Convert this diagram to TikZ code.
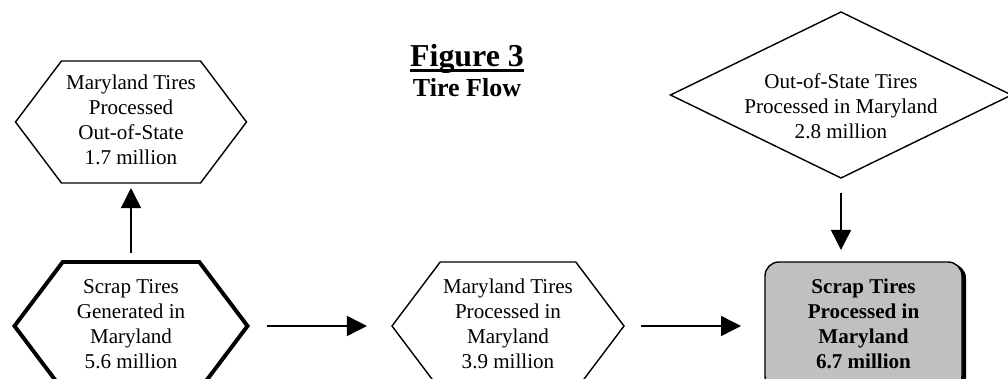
\documentclass[tikz,border=0pt]{standalone}
\usepackage{fontspec}
\setmainfont{Liberation Serif}
\usepackage{tikz-network}
\usetikzlibrary{shapes.symbols,shapes.geometric,shadows,arrows.meta}

\definecolor{tiregray}{HTML}{C0C0C0}
\newcommand{\tiretext}{\fontsize{15}{17.8}\selectfont}
\newcommand{\tirelines}[1]{{\tiretext\begin{tabular}{@{}c@{}}#1\end{tabular}}}
\newcommand{\tireul}[1]{\setbox0\hbox{#1}\rlap{\raisebox{-0.15cm}{\rule{\wd0}{0.075cm}}}\box0}
\tikzset{
  hexbox/.style={shape=signal, signal to=east and west, signal pointer angle=106,
    draw=black, fill=white, line width=1pt, inner sep=0pt},
  flowarrow/.style={-{Triangle[length=0.5cm,width=0.5cm]}}
}

\begin{document}
\begin{tikzpicture}
        \useasboundingbox (0,0) rectangle (25.2,9.475);
        % title
        \Vertex[x=11.675, y=8.01, label={\fontsize{22.7}{26}\selectfont\bfseries\tireul{Figure 3}}, style={fill=none, draw=none}]{fig}
        \Vertex[x=11.675, y=7.275, label={\fontsize{18.5}{22}\selectfont\bfseries Tire Flow}, style={fill=none, draw=none}]{flow}
        % boxes
        \Vertex[x=3.275, y=6.425, color=white, label={\tirelines{Maryland Tires\\Processed\\Out-of-State\\1.7 million}}, style={hexbox, minimum width=5.775cm, minimum height=3.05cm}]{outst}
        \Vertex[x=3.275, y=1.325, color=white, label={\tirelines{Scrap Tires\\Generated in\\Maryland\\5.6 million}}, style={hexbox, line width=2.8pt, minimum width=5.825cm, minimum height=3.2cm}]{scrap}
        \Vertex[x=12.7, y=1.325, color=white, label={\tirelines{Maryland Tires\\Processed in\\Maryland\\3.9 million}}, style={hexbox, minimum width=5.8cm, minimum height=3.2cm}]{mdproc}
        \Vertex[x=21.5875, y=1.325, color=tiregray, label={\tirelines{\bfseries Scrap Tires\\\bfseries Processed in\\\bfseries Maryland\\\bfseries 6.7 million}}, style={shape=rectangle, rounded corners=0.35cm, draw=black, fill=tiregray, line width=1pt, minimum width=4.925cm, minimum height=3.2cm, drop shadow={shadow xshift=0.1cm, shadow yshift=-0.05cm, fill=black, opacity=1}}]{total}
        \Vertex[x=21.025, y=7.1, color=white, label={\tirelines{\mbox{}\\[0.07cm]Out-of-State Tires\\Processed in Maryland\\2.8 million}}, style={shape=diamond, draw=black, fill=white, line width=1pt, inner sep=0pt, minimum width=8.525cm, minimum height=4.15cm}]{outin}
        \Vertex[x=21.025, y=3.225, size=0, style={fill=none, draw=none, minimum size=0pt, inner sep=0pt, outer sep=0pt}]{totin}
        % flows
        \Edge[Direct, color=black, lw=1pt, style={flowarrow, shorten <=0.225cm, shorten >=0.125cm}](scrap)(outst)
        \Edge[Direct, color=black, lw=1pt, style={flowarrow, shorten <=0.475cm, shorten >=0.625cm}](scrap)(mdproc)
        \Edge[Direct, color=black, lw=1pt, style={flowarrow, shorten <=0.425cm, shorten >=0.6cm}](mdproc)(total)
        \Edge[Direct, color=black, lw=1pt, style={flowarrow, shorten <=0.375cm}](outin)(totin)
\end{tikzpicture}
\end{document}
